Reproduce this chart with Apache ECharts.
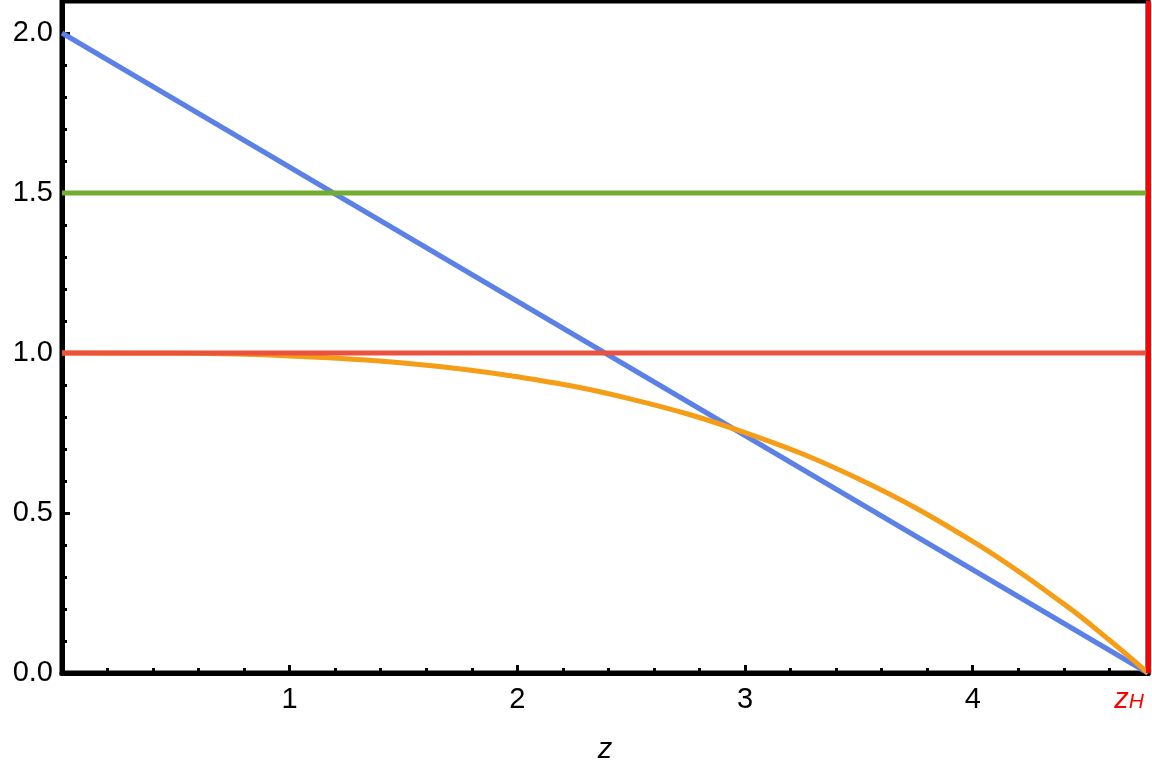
<!DOCTYPE html>
<html>
<head>
<meta charset="utf-8">
<script src="https://cdn.jsdelivr.net/npm/echarts@6/dist/echarts.min.js"></script>
<style>
    html, body { margin: 0; padding: 0; background: #fff; }
    #chart { width: 1152px; height: 766px; }
</style>
</head>
<body>
<div id="chart"></div>
<script>
// horizon position on the z axis
const zH = 4.77

// curves
const blueZ = [0, zH]
const blueY = [2.0, 0]
const orangeZ = [0, 0.5, 1, 1.5, 2, 2.5, 3, 3.5, 4, 4.4, 4.6, zH]
const orangeY = [1.0, 0.999, 0.991, 0.969, 0.926, 0.856, 0.751, 0.606, 0.411, 0.216, 0.103, 0]
const greenZ = [0, zH]
const greenY = [1.5, 1.5]
const redZ = [0, zH]
const redY = [1.0, 1.0]

// ticks
const xMajor = [1, 2, 3, 4]
const xLabels = [1, 2, 3, 4, zH]
const xMinor = [0.2, 0.4, 0.6, 0.8, 1.2, 1.4, 1.6, 1.8, 2.2, 2.4, 2.6, 2.8,
    3.2, 3.4, 3.6, 3.8, 4.2, 4.4, 4.6]
const yMajor = [0, 0.5, 1.0, 1.5, 2.0]
const yMinor = [0.1, 0.2, 0.3, 0.4, 0.6, 0.7, 0.8, 0.9, 1.1, 1.2, 1.3, 1.4,
    1.6, 1.7, 1.8, 1.9]
const yMax = 2.1

const FONT = 'Liberation Sans'
const pairs = (xs, ys) => xs.map((x, i) => [x, ys[i]])

const chart = echarts.init(document.getElementById('chart'))

const lineSeries = (data, color, smooth) => {
    return {
        type: 'line',
        xAxisIndex: 0,
        yAxisIndex: 0,
        data: data,
        smooth: smooth,
        showSymbol: false,
        lineStyle: { color: color, width: 5 },
        silent: true,
    }
}

// the same box three times: grid 0 holds the frame and labels,
// grid 1 the minor ticks, grid 2 the major ticks
const box = { left: 62, right: 4, top: 1, bottom: 93, outerBoundsMode: 'none' }

const redSeries = lineSeries(pairs(redZ, redY), '#ea523f', false)
redSeries.markLine = {
    silent: true,
    symbol: ['none', 'none'],
    label: { show: false },
    lineStyle: { color: '#ff0000', width: 5, type: 'solid' },
    data: [{ xAxis: zH }],
}

const tickAxis = (gridIndex, max, values, length) => {
    return {
        type: 'value',
        gridIndex: gridIndex,
        min: 0,
        max: max,
        axisLine: { show: false, onZero: false },
        axisTick: {
            show: true,
            inside: true,
            length: length,
            lineStyle: { color: '#000', width: 3 },
            customValues: values,
        },
        axisLabel: { show: false },
        splitLine: { show: false },
    }
}

const option = {
    animation: false,
    grid: [
        { ...box, show: true, borderColor: '#000', borderWidth: 5 },
        { ...box },
        { ...box },
    ],
    xAxis: [
        {
            type: 'value',
            gridIndex: 0,
            min: 0,
            max: zH,
            position: 'bottom',
            axisLine: { onZero: false, lineStyle: { color: '#000', width: 5 } },
            axisTick: { show: false },
            axisLabel: {
                customValues: xLabels,
                color: '#000',
                fontSize: 29,
                fontFamily: FONT,
                margin: 12,
                alignMaxLabel: 'right',
                formatter: (v) => (Math.abs(v - zH) < 1e-6 ? '{zh|z}{sub|H}' : String(v)),
                rich: {
                    zh: { color: '#ff0000', fontStyle: 'italic', fontSize: 29, fontFamily: FONT, padding: [0, 0, 5, 0] },
                    sub: { color: '#ff0000', fontStyle: 'italic', fontSize: 21, fontFamily: FONT, padding: [0, 4, 0, 0] },
                },
            },
            splitLine: { show: false },
            name: 'z',
            nameLocation: 'middle',
            nameGap: 62,
            nameTextStyle: { color: '#000', fontSize: 29, fontStyle: 'italic', fontFamily: FONT },
        },
        { ...tickAxis(1, zH, xMinor, 5), position: 'bottom' },
        { ...tickAxis(2, zH, xMajor, 8), position: 'bottom' },
    ],
    yAxis: [
        {
            type: 'value',
            gridIndex: 0,
            min: 0,
            max: yMax,
            position: 'left',
            axisLine: { show: true, onZero: false, lineStyle: { color: '#000', width: 5 } },
            axisTick: { show: false },
            axisLabel: {
                customValues: yMajor,
                color: '#000',
                fontSize: 29,
                fontFamily: FONT,
                margin: 9,
                formatter: (v) => v.toFixed(1),
            },
            splitLine: { show: false },
        },
        { ...tickAxis(1, yMax, yMinor, 5), position: 'left' },
        { ...tickAxis(2, yMax, yMajor, 8), position: 'left' },
    ],
    series: [
        lineSeries(pairs(blueZ, blueY), '#5b81e6', false),
        lineSeries(pairs(orangeZ, orangeY), '#f59d16', 0.4),
        lineSeries(pairs(greenZ, greenY), '#72ad2f', false),
        redSeries,
    ],
}

chart.setOption(option)
</script>
</body>
</html>
